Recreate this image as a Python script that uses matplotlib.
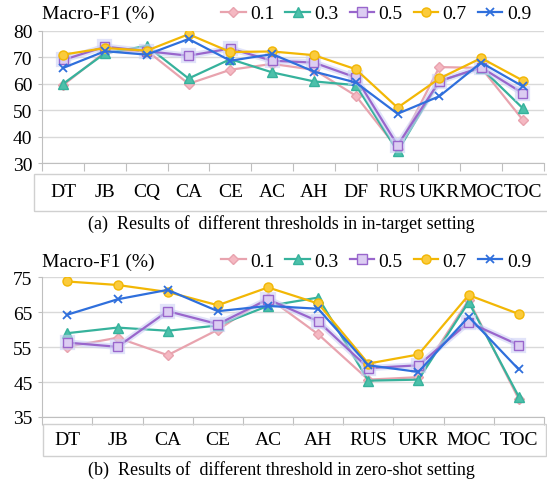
import numpy as np
import matplotlib
matplotlib.use('Agg')
import matplotlib.pyplot as plt
import matplotlib.patheffects as pe
from matplotlib.patches import Rectangle

# ============================================================
# Data
# ============================================================

thresholds = ['0.1', '0.3', '0.5', '0.7', '0.9']

cats_a = ['DT', 'JB', 'CQ', 'CA', 'CE', 'AC', 'AH', 'DF', 'RUS', 'UKR', 'MOC', 'TOC']
a_01 = [59.5, 72.0, 72.5, 60.0, 65.3, 67.5, 65.3, 55.5, 35.5, 66.3, 66.0, 46.3]
a_03 = [60.0, 71.5, 74.3, 62.0, 69.3, 64.3, 60.9, 59.5, 34.5, 61.0, 66.0, 50.7]
a_05 = [69.0, 74.0, 72.3, 70.6, 73.3, 68.7, 68.0, 62.4, 36.8, 61.0, 66.2, 56.4]
a_07 = [71.0, 73.5, 72.5, 78.7, 72.0, 72.2, 70.8, 65.5, 51.0, 62.0, 69.7, 61.2]
a_09 = [66.0, 72.3, 71.0, 76.9, 68.7, 71.2, 64.6, 60.5, 48.7, 55.3, 68.0, 59.0]

cats_b = ['DT', 'JB', 'CA', 'CE', 'AC', 'AH', 'RUS', 'UKR', 'MOC', 'TOC']
b_01 = [55.1, 57.7, 52.7, 60.0, 69.2, 58.7, 45.7, 46.4, 68.5, 40.1]
b_03 = [59.0, 60.6, 59.7, 61.2, 66.8, 69.2, 45.4, 45.7, 67.9, 40.8]
b_05 = [56.3, 55.1, 65.3, 61.6, 68.7, 62.4, 49.0, 49.8, 62.1, 55.6]
b_07 = [73.8, 72.8, 70.8, 67.0, 72.1, 67.5, 50.3, 52.9, 69.9, 64.5]
b_09 = [64.3, 68.7, 71.4, 65.3, 66.8, 66.0, 49.8, 47.9, 63.7, 48.6]

# ============================================================
# Style
# ============================================================

plt.rcParams['font.family'] = ['Liberation Serif', 'DejaVu Serif']
plt.rcParams['font.size'] = 14

styles = [
    dict(color='#E8A3AE', marker='D', mfc='#F5B8C2', mec='#E8A3AE', ms=5),
    dict(color='#36B29C', marker='^', mfc='#4CC0AA', mec='#36B29C', ms=6.5),
    dict(color='#9966CC', marker='s', mfc='#DCCDF2', mec='#9966CC', ms=6.5),
    dict(color='#F2B705', marker='o', mfc='#FBCB3C', mec='#F2B705', ms=6.5),
    dict(color='#2F6FDC', marker='x', mec='#2F6FDC', ms=6, mew=1.3),
]

glow = [pe.Stroke(linewidth=4.5, foreground='#CDD1F6', alpha=0.6), pe.Normal()]

fig = plt.figure(figsize=(5.47, 4.81), dpi=100)


def draw_panel(rect, cats, series, yticks, legend_y, label_pad, box, caption, cap_y):
    ax = fig.add_axes(rect)
    x = np.arange(len(cats))
    for i, (vals, st) in enumerate(zip(series, styles)):
        line, = ax.plot(x, vals, lw=1.6, label=thresholds[i], zorder=3 + i, **st)
        if i == 2:
            line.set_path_effects(glow)

    ax.set_xlim(-0.5, len(cats) - 0.5)
    ax.set_ylim(yticks[0], yticks[-1])
    ax.set_yticks(yticks)
    ax.grid(axis='y', color='#D9D9D9', lw=1)
    ax.set_axisbelow(True)

    # boundaries as major ticks, labels at centres
    ax.set_xticks(np.arange(-0.5, len(cats), 1.0))
    ax.set_xticklabels([])
    ax.set_xticks(x, minor=True)
    ax.set_xticklabels(cats, minor=True)
    ax.tick_params(axis='x', which='major', length=6, color='#BFBFBF', direction='out')
    ax.tick_params(axis='x', which='minor', length=0, pad=label_pad)
    ax.tick_params(axis='y', length=3, color='#BFBFBF', pad=4)

    for s in ['top', 'right']:
        ax.spines[s].set_visible(False)
    for s in ['left', 'bottom']:
        ax.spines[s].set_color('#BFBFBF')

    ax.text(0.0, legend_y, 'Macro-F1 (%)', transform=ax.transAxes,
            ha='left', va='center')
    leg = ax.legend(loc='center right', bbox_to_anchor=(0.99, legend_y), ncol=5,
                    frameon=False, handlelength=1.25, handletextpad=0.25,
                    columnspacing=0.55, borderaxespad=0, fontsize=14)
    leg.get_lines()[2].set_path_effects([])

    fig.patches.append(Rectangle(box[:2], box[2], box[3], transform=fig.transFigure,
                                 fill=False, ec='#D0D0D0', lw=1))
    fig.text(0.161, cap_y, caption, ha='left', va='center', fontsize=13)
    return ax


draw_panel([0.0773, 0.6584, 0.917, 0.2755], cats_a,
           [a_01, a_03, a_05, a_07, a_09], [30, 40, 50, 60, 70, 80],
           1.13, 14, (0.062, 0.56, 0.94, 0.076),
           '(a)  Results of  different thresholds in in-target setting', 0.535)

draw_panel([0.0773, 0.131, 0.917, 0.2904], cats_b,
           [b_01, b_03, b_05, b_07, b_09], [35, 45, 55, 65, 75],
           1.115, 10, (0.079, 0.05, 0.92, 0.067),
           '(b)  Results of  different threshold in zero-shot setting', 0.022)

fig.savefig('out.png', dpi=100)
